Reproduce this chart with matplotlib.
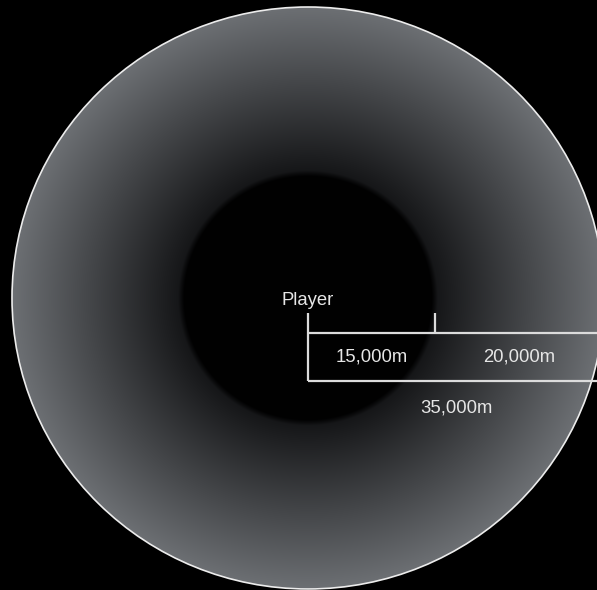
import matplotlib
matplotlib.use("Agg")
import matplotlib.pyplot as plt
import numpy as np
from matplotlib.patches import Circle

# distances in metres
segments = [15000, 20000]
segment_labels = ["15,000m", "20,000m"]
total = 35000
total_label = "35,000m"
player_label = "Player"

W, H = 597, 590
cx_px, cy_px = 308, 298
sx = total / 296.0   # metres per pixel, horizontal
sy = total / 291.0   # metres per pixel, vertical

fig = plt.figure(figsize=(W / 100, H / 100), dpi=100, facecolor="black")
ax = fig.add_axes([0, 0, 1, 1])
ax.set_facecolor("black")
xlim = (-cx_px * sx, (W - cx_px) * sx)
ylim = (-(H - cy_px) * sy, cy_px * sy)
ax.set_xlim(xlim)
ax.set_ylim(ylim)
ax.axis("off")

# radial shading: dark core out to the first ring, then fading to grey
xs = np.linspace(xlim[0], xlim[1], W * 2)
ys = np.linspace(ylim[1], ylim[0], H * 2)
X, Y = np.meshgrid(xs, ys)
r = np.hypot(X, Y)
inner = segments[0]
t = np.clip((r - inner) / (total - inner), 0, 1)
c0 = np.array([0.080, 0.083, 0.090])
c1 = np.array([0.425, 0.437, 0.452])
ring = c0 + t[..., None] * (c1 - c0)
core = np.array([0.004, 0.004, 0.005])
edge = np.clip((r - inner) / 700 + 0.5, 0, 1)[..., None]
img = core * (1 - edge) + ring * edge
im = ax.imshow(img, extent=(xlim[0], xlim[1], ylim[0], ylim[1]),
               aspect="auto", interpolation="bilinear", zorder=1)
clip = Circle((0, 0), total, transform=ax.transData, facecolor="none")
ax.add_patch(clip)
im.set_clip_path(clip)
ax.add_patch(Circle((0, 0), total, facecolor="none", edgecolor="#ececec",
                    linewidth=1.2, zorder=3))

# scale bar
lc = "#dcdcdc"
lw = 1.6
top_y = (cy_px - 333) * sy
bot_y = (cy_px - 381) * sy
tick_top = (cy_px - 313) * sy
ends = np.cumsum([0] + segments)
ax.plot([0, total], [top_y, top_y], color=lc, lw=lw, zorder=4, solid_capstyle="butt")
ax.plot([0, total], [bot_y, bot_y], color=lc, lw=lw, zorder=4, solid_capstyle="butt")
ax.plot([0, 0], [tick_top, bot_y], color=lc, lw=lw, zorder=4, solid_capstyle="butt")
for e in ends[1:-1]:
    ax.plot([e, e], [tick_top, top_y], color=lc, lw=lw, zorder=4, solid_capstyle="butt")

font = dict(family=["Liberation Sans", "DejaVu Sans"], fontsize=13.3, color="#e6e6e6", zorder=5)
mid_y = (cy_px - 357) * sy
for a, b, lab in zip(ends[:-1], ends[1:], segment_labels):
    ax.text((a + b) / 2, mid_y, lab, ha="center", va="center", **font)
ax.text(total / 2, (cy_px - 408) * sy, total_label, ha="center", va="center", **font)
ax.text(0, (cy_px - 301) * sy, player_label, ha="center", va="center", **font)

fig.savefig("out.png", dpi=100, facecolor="black")
